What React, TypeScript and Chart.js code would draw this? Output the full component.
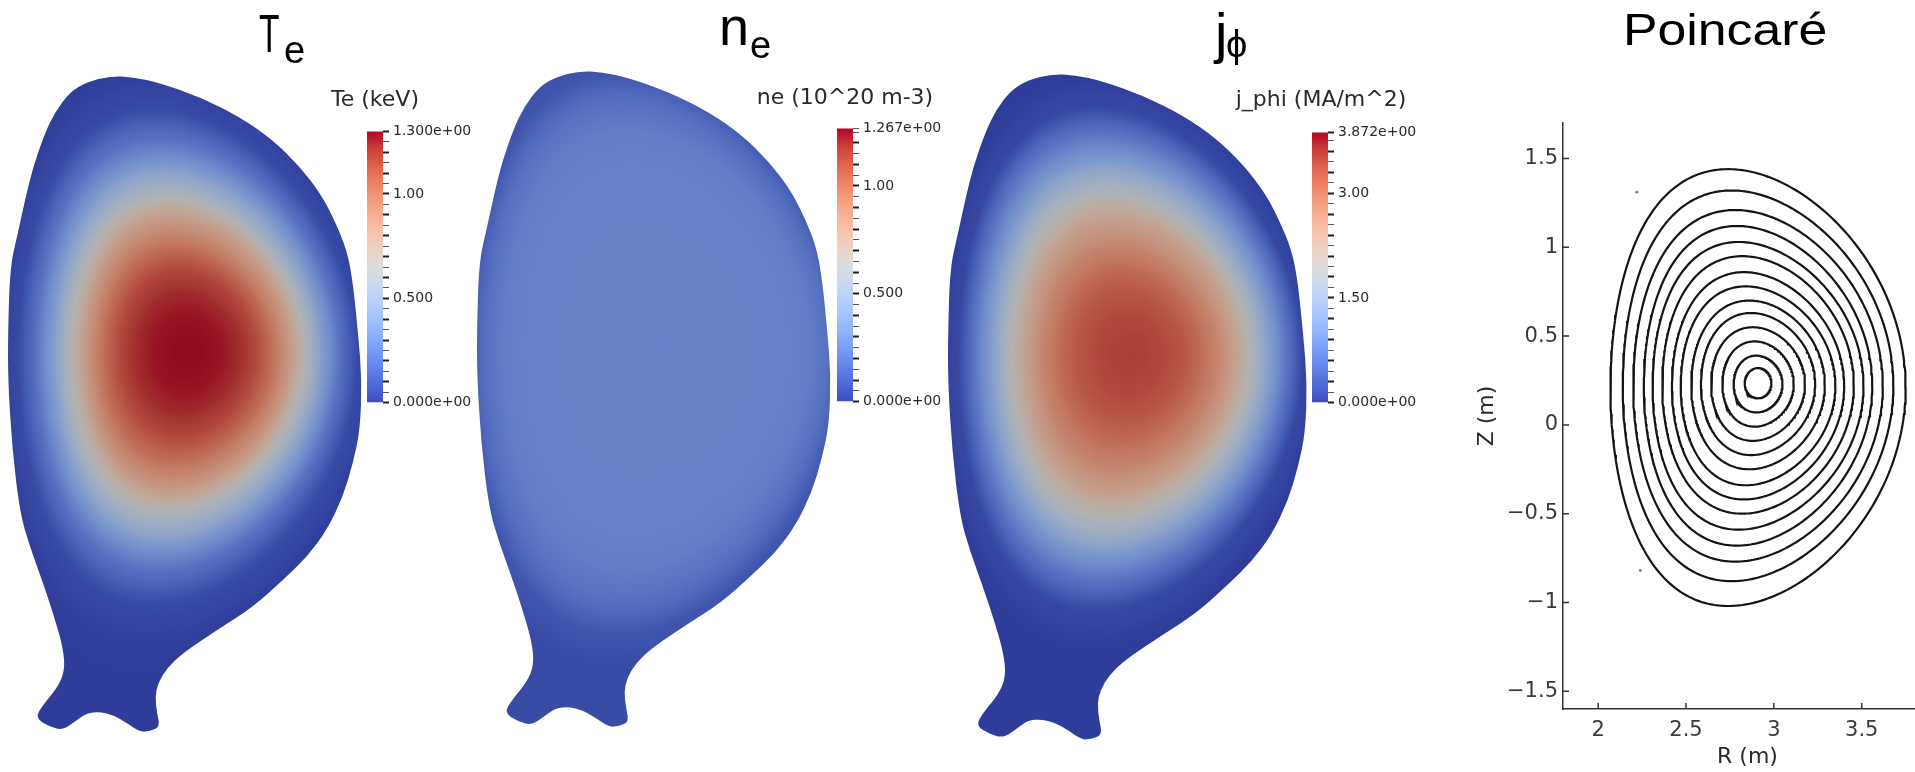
import React, { useEffect, useRef } from 'react';
import { Chart, registerables } from 'chart.js';

Chart.register(...registerables);

// ---------- Computational domain outline (R, Z in metres), clockwise from the top ----------
const domainR = [
  2.525, 2.639, 2.772, 2.970, 3.168, 3.332, 3.466, 3.565, 3.629, 3.698, 3.728, 3.753, 3.772, 3.763,
  3.728, 3.678, 3.599, 3.500, 3.381, 3.233, 3.055, 2.886, 2.807, 2.763, 2.748, 2.758, 2.772, 2.723,
  2.673, 2.609, 2.540, 2.475, 2.411, 2.362, 2.292, 2.228, 2.154, 2.193, 2.267, 2.302, 2.292, 2.243,
  2.188, 2.129, 2.079, 2.040, 2.020, 2.020, 2.030, 2.069, 2.104, 2.144, 2.203, 2.253, 2.327, 2.411,
];
const domainZ = [
  1.600, 1.595, 1.565, 1.496, 1.397, 1.283, 1.150, 1.021, 0.902, 0.739, 0.575, 0.328, 0.095, -0.152,
  -0.316, -0.484, -0.647, -0.781, -0.895, -1.029, -1.143, -1.256, -1.331, -1.405, -1.474, -1.553, -1.623, -1.643,
  -1.648, -1.603, -1.563, -1.548, -1.553, -1.588, -1.638, -1.623, -1.578, -1.514, -1.425, -1.341, -1.227, -1.058,
  -0.895, -0.732, -0.563, -0.237, 0.095, 0.328, 0.654, 0.823, 0.986, 1.150, 1.318, 1.422, 1.521, 1.570,
];

// ---------- Poincaré flux surfaces, outermost first (extremes of each closed surface) ----------
const surfTopZ = [1.44, 1.32, 1.21, 1.12, 1.03, 0.95, 0.86, 0.78, 0.70, 0.63, 0.55, 0.47, 0.39, 0.32];
const surfBottomZ = [-1.02, -0.88, -0.77, -0.68, -0.59, -0.50, -0.42, -0.34, -0.25, -0.17, -0.09, -0.01, 0.07, 0.15];
const surfInnerR = [2.07, 2.14, 2.20, 2.26, 2.31, 2.365, 2.42, 2.47, 2.53, 2.585, 2.643, 2.707, 2.771, 2.834];
const surfOuterR = [3.75, 3.68, 3.62, 3.56, 3.51, 3.455, 3.40, 3.35, 3.29, 3.235, 3.177, 3.113, 3.049, 2.986];
const surfTopR = [2.74, 2.76, 2.78, 2.79, 2.80, 2.82, 2.83, 2.84, 2.86, 2.87, 2.88, 2.89, 2.90, 2.91];

// Magnetic axis
const AXIS_R = 2.91;
const AXIS_Z = 0.235;

// Isolated puncture points
const strayR = [2.22, 2.24];
const strayZ = [1.31, -0.82];

// Axis ticks of the Poincaré plot
const rTicks = [2, 2.5, 3, 3.5];
const zTicks = [-1.5, -1, -0.5, 0, 0.5, 1, 1.5];

// ---------- Radial profiles against normalised radius ----------
const rhoGrid = [0, 0.1, 0.2, 0.3, 0.4, 0.5, 0.6, 0.7, 0.8, 0.9, 1.0, 1.1, 1.2];
const teProfile = [1.29, 1.285, 1.27, 1.23, 1.15, 1.02, 0.84, 0.62, 0.4, 0.2, 0.05, 0.01, 0.0];
const neProfile = [0.27, 0.271, 0.272, 0.273, 0.273, 0.272, 0.27, 0.267, 0.262, 0.25, 0.2, 0.09, 0.05];
const jphiProfile = [3.5, 3.48, 3.42, 3.3, 3.1, 2.8, 2.4, 1.9, 1.3, 0.7, 0.12, 0.0, 0.0];

// ---------- Colour-bar ranges and labelled ticks ----------
const teMax = 1.3;
const teTickValues = [0, 0.5, 1.0, 1.3];
const teTickLabels = ['0.000e+00', '0.500', '1.00', '1.300e+00'];
const neMax = 1.267;
const neTickValues = [0, 0.5, 1.0, 1.267];
const neTickLabels = ['0.000e+00', '0.500', '1.00', '1.267e+00'];
const jphiMax = 3.872;
const jphiTickValues = [0, 1.5, 3.0, 3.872];
const jphiTickLabels = ['0.000e+00', '1.50', '3.00', '3.872e+00'];

// Diverging cool-to-warm colour map
const COOL_WARM = [
  [59, 76, 192], [77, 104, 215], [98, 130, 234], [119, 154, 247], [141, 176, 254],
  [163, 194, 255], [184, 208, 249], [204, 217, 238], [221, 221, 221], [236, 211, 197],
  [245, 196, 172], [247, 177, 148], [244, 154, 123], [236, 127, 99], [222, 96, 77],
  [203, 62, 56], [180, 4, 38],
];
const SURFACE_SHADE = 0.8;

function coolWarm(t: number): number[] {
  const u = Math.min(1, Math.max(0, t)) * (COOL_WARM.length - 1);
  const i = Math.min(COOL_WARM.length - 2, Math.floor(u));
  const f = u - i;
  const a = COOL_WARM[i];
  const b = COOL_WARM[i + 1];
  return [a[0] + (b[0] - a[0]) * f, a[1] + (b[1] - a[1]) * f, a[2] + (b[2] - a[2]) * f];
}

// Closed D-shaped curve through the measured extremes of surface k
function surfaceCurve(k: number, n: number) {
  const r0 = (surfInnerR[k] + surfOuterR[k]) / 2;
  const a = (surfOuterR[k] - surfInnerR[k]) / 2;
  const z0 = (surfTopZ[k] + surfBottomZ[k]) / 2;
  const h = (surfTopZ[k] - surfBottomZ[k]) / 2;
  const delta = Math.asin(Math.max(-0.9, Math.min(0.9, (r0 - surfTopR[k]) / a)));
  const pts: { x: number; y: number }[] = [];
  for (let i = 0; i <= n; i++) {
    const th = (2 * Math.PI * i) / n;
    pts.push({ x: r0 + a * Math.cos(th + delta * Math.sin(th)), y: z0 + h * Math.sin(th) });
  }
  return pts;
}

// Radius of every surface seen from the magnetic axis, sampled in poloidal angle
const NB = 720;
const DPHI = (2 * Math.PI) / NB;
const surfaceRadii: Float64Array[] = surfTopZ.map((_, k) => {
  const pts = surfaceCurve(k, 1440);
  const radii = new Float64Array(NB);
  for (let i = 0; i < pts.length - 1; i++) {
    const ax = pts[i].x - AXIS_R;
    const ay = pts[i].y - AXIS_Z;
    const bx = pts[i + 1].x - AXIS_R;
    const by = pts[i + 1].y - AXIS_Z;
    const pa = Math.atan2(ay, ax);
    const ra = Math.hypot(ax, ay);
    const rb = Math.hypot(bx, by);
    let d = Math.atan2(by, bx) - pa;
    if (d > Math.PI) d -= 2 * Math.PI;
    if (d < -Math.PI) d += 2 * Math.PI;
    const lo = Math.min(pa, pa + d);
    const hi = Math.max(pa, pa + d);
    for (let j = Math.ceil((lo + Math.PI) / DPHI); j <= Math.floor((hi + Math.PI) / DPHI); j++) {
      const phi = -Math.PI + j * DPHI;
      const t = d === 0 ? 0 : (phi - pa) / d;
      radii[((j % NB) + NB) % NB] = ra + t * (rb - ra);
    }
  }
  return radii;
});
const surfRho = surfOuterR.map((o, k) => (o - surfInnerR[k]) / (surfOuterR[0] - surfInnerR[0]));

function rhoAt(R: number, Z: number): number {
  const dx = R - AXIS_R;
  const dz = Z - AXIS_Z;
  const r = Math.hypot(dx, dz);
  const u = ((Math.atan2(dz, dx) + Math.PI) / (2 * Math.PI)) * NB;
  const fl = Math.floor(u);
  const j0 = ((fl % NB) + NB) % NB;
  const j1 = (j0 + 1) % NB;
  const f = u - fl;
  const rk = (k: number) => surfaceRadii[k][j0] * (1 - f) + surfaceRadii[k][j1] * f;
  const n = surfRho.length;
  const outer = rk(0);
  if (r >= outer) {
    const next = rk(1);
    return surfRho[0] + ((r - outer) / (outer - next)) * (surfRho[0] - surfRho[1]);
  }
  let ro = outer;
  for (let k = 0; k < n - 1; k++) {
    const ri = rk(k + 1);
    if (r >= ri) return surfRho[k + 1] + ((r - ri) / (ro - ri)) * (surfRho[k] - surfRho[k + 1]);
    ro = ri;
  }
  return (surfRho[n - 1] * r) / rk(n - 1);
}

function profileAt(p: number[], rho: number): number {
  const step = rhoGrid[1] - rhoGrid[0];
  const u = rho / step;
  if (u >= p.length - 1) return p[p.length - 1];
  if (u <= 0) return p[0];
  const i = Math.floor(u);
  return p[i] + (p[i + 1] - p[i]) * (u - i);
}

// Paints the field inside the domain outline, using the chart's own scales
function makeFieldPlugin(profile: number[], vmax: number) {
  let image: HTMLCanvasElement | null = null;
  return {
    id: 'fieldPainter',
    beforeDatasetsDraw(chart: any) {
      const { ctx, chartArea: a } = chart;
      const xs = chart.scales.x;
      const ys = chart.scales.y;
      const w = Math.ceil(a.right - a.left);
      const h = Math.ceil(a.bottom - a.top);
      if (!image || image.width !== w || image.height !== h) {
        image = document.createElement('canvas');
        image.width = w;
        image.height = h;
        const octx = image.getContext('2d')!;
        const img = octx.createImageData(w, h);
        const Rs = new Float64Array(w);
        const Zs = new Float64Array(h);
        for (let i = 0; i < w; i++) Rs[i] = xs.getValueForPixel(a.left + i + 0.5);
        for (let j = 0; j < h; j++) Zs[j] = ys.getValueForPixel(a.top + j + 0.5);
        for (let j = 0; j < h; j++) {
          for (let i = 0; i < w; i++) {
            const v = profileAt(profile, rhoAt(Rs[i], Zs[j]));
            const c = coolWarm(v / vmax);
            const o = (j * w + i) * 4;
            img.data[o] = c[0] * SURFACE_SHADE;
            img.data[o + 1] = c[1] * SURFACE_SHADE;
            img.data[o + 2] = c[2] * SURFACE_SHADE;
            img.data[o + 3] = 255;
          }
        }
        octx.putImageData(img, 0, 0);
      }
      const pts = chart.getDatasetMeta(0).data.map((p: any) => ({ x: p.x, y: p.y }));
      const n = pts.length;
      const mid = (p: any, q: any) => ({ x: (p.x + q.x) / 2, y: (p.y + q.y) / 2 });
      ctx.save();
      ctx.beginPath();
      const m0 = mid(pts[n - 1], pts[0]);
      ctx.moveTo(m0.x, m0.y);
      for (let i = 0; i < n; i++) {
        const p = pts[i];
        const mm = mid(p, pts[(i + 1) % n]);
        ctx.quadraticCurveTo(p.x, p.y, mm.x, mm.y);
      }
      ctx.closePath();
      ctx.clip();
      ctx.drawImage(image, a.left, a.top, w, h);
      ctx.restore();
    },
  };
}

type View = { width: number; height: number; ox: number; oy: number; left: number; top: number; scale: number };

function fieldConfig(profile: number[], vmax: number, v: View) {
  const rMin = 2.02 - (v.ox - v.left) / v.scale;
  const zMax = 1.6 + (v.oy - v.top) / v.scale;
  return {
    type: 'scatter',
    data: {
      datasets: [
        {
          label: 'domain',
          data: domainR.map((r, i) => ({ x: r, y: domainZ[i] })),
          showLine: false,
          pointRadius: 0,
        },
      ],
    },
    options: {
      animation: false,
      responsive: true,
      maintainAspectRatio: false,
      events: [],
      layout: { padding: 0 },
      plugins: { legend: { display: false }, tooltip: { enabled: false } },
      scales: {
        x: { type: 'linear', display: false, min: rMin, max: rMin + v.width / v.scale },
        y: { type: 'linear', display: false, min: zMax - v.height / v.scale, max: zMax },
      },
    },
    plugins: [makeFieldPlugin(profile, vmax)],
  };
}

function colorbarConfig(max: number, step: number, tickValues: number[], tickLabels: string[]) {
  const minor: number[] = [];
  for (let k = 0; k * step < max - 1e-6; k++) minor.push(+(k * step).toFixed(4));
  minor.push(max);
  const labelFor = (val: number) => {
    const i = tickValues.findIndex((t) => Math.abs(t - val) < 1e-6);
    return i >= 0 ? tickLabels[i] : '';
  };
  return {
    type: 'bar',
    data: {
      labels: [''],
      datasets: [
        {
          data: [[0, max]],
          borderWidth: 0,
          barPercentage: 1,
          categoryPercentage: 1,
          backgroundColor: (c: any) => {
            const area = c.chart.chartArea;
            if (!area) return 'rgb(221,221,221)';
            const g = c.chart.ctx.createLinearGradient(0, area.bottom, 0, area.top);
            COOL_WARM.forEach((col, i) => g.addColorStop(i / (COOL_WARM.length - 1), `rgb(${col[0]},${col[1]},${col[2]})`));
            return g;
          },
        },
      ],
    },
    options: {
      animation: false,
      responsive: true,
      maintainAspectRatio: false,
      events: [],
      layout: { padding: { top: 12, bottom: 12, left: 0, right: 0 } },
      plugins: { legend: { display: false }, tooltip: { enabled: false } },
      scales: {
        x: { display: false },
        y: {
          position: 'right',
          min: 0,
          max,
          afterBuildTicks: (s: any) => {
            s.ticks = minor.map((value) => ({ value }));
          },
          afterFit: (s: any) => {
            s.width = 90;
          },
          grid: {
            display: true,
            drawOnChartArea: false,
            drawTicks: true,
            tickLength: 6,
            tickWidth: (c: any) => (Math.round((c.tick?.value ?? 0) / step) % 2 === 0 ? 2 : 1),
            tickColor: (c: any) => (Math.round((c.tick?.value ?? 0) / step) % 2 === 0 ? '#1e1e1e' : '#555'),
          },
          border: { display: false },
          ticks: {
            autoSkip: false,
            padding: 4,
            color: '#2a2a2a',
            font: { family: 'DejaVu Sans', size: 14 },
            callback: (val: number) => labelFor(val),
          },
        },
      },
    },
  };
}

const fmtTick = (v: number) => String(v).replace('-', '\u2212');

const inwardTicks = {
  id: 'inwardTicks',
  afterDraw(chart: any) {
    const { ctx, chartArea: a, scales } = chart;
    ctx.save();
    ctx.strokeStyle = '#333';
    ctx.lineWidth = 1.5;
    ctx.beginPath();
    rTicks.forEach((v) => {
      const px = scales.x.getPixelForValue(v);
      ctx.moveTo(px, a.bottom);
      ctx.lineTo(px, a.bottom - 6);
    });
    zTicks.forEach((v) => {
      const py = scales.y.getPixelForValue(v);
      ctx.moveTo(a.left, py);
      ctx.lineTo(a.left + 6, py);
    });
    ctx.stroke();
    ctx.restore();
  },
};

function poincareConfig() {
  const surfaces = surfTopZ.map((_, k) => ({
    label: `surface ${k + 1}`,
    data: surfaceCurve(k, 260),
    showLine: true,
    pointRadius: 0,
    borderColor: '#141414',
    borderWidth: 2.2,
    tension: 0,
    fill: false,
  }));
  const stray = {
    label: 'stray points',
    data: strayR.map((r, i) => ({ x: r, y: strayZ[i] })),
    showLine: false,
    pointRadius: 1.4,
    borderWidth: 0,
    backgroundColor: '#808080',
  };
  const axisFont = { family: 'DejaVu Sans', size: 21 };
  const titleFont = { family: 'DejaVu Sans', size: 22 };
  return {
    type: 'scatter',
    data: { datasets: [...surfaces, stray] },
    options: {
      animation: false,
      responsive: true,
      maintainAspectRatio: false,
      events: [],
      layout: { padding: { top: 23, left: 0, right: 0, bottom: 0 } },
      plugins: { legend: { display: false }, tooltip: { enabled: false } },
      scales: {
        x: {
          type: 'linear',
          min: 1.8,
          max: 3.9,
          afterBuildTicks: (s: any) => {
            s.ticks = rTicks.map((value) => ({ value }));
          },
          afterFit: (s: any) => {
            s.height = 63;
          },
          grid: { display: false, drawTicks: false },
          border: { display: true, color: '#333', width: 1.5 },
          ticks: { padding: 9, color: '#3a3a3a', font: axisFont, callback: fmtTick },
          title: { display: true, text: 'R (m)', color: '#2a2a2a', font: titleFont, padding: { top: 0, bottom: 2 } },
        },
        y: {
          type: 'linear',
          min: -1.6,
          max: 1.7,
          afterBuildTicks: (s: any) => {
            s.ticks = zTicks.map((value) => ({ value }));
          },
          afterFit: (s: any) => {
            s.width = 123;
          },
          grid: { display: false, drawTicks: false },
          border: { display: true, color: '#333', width: 1.5 },
          ticks: { padding: 5, color: '#3a3a3a', font: axisFont, callback: fmtTick },
          title: { display: true, text: 'Z (m)', color: '#2a2a2a', font: titleFont, padding: { top: 34, bottom: 0 } },
        },
      },
    },
    plugins: [inwardTicks],
  };
}

function ChartBox({ left, top, width, height, make }: { left: number; top: number; width: number; height: number; make: () => any }) {
  const ref = useRef<HTMLCanvasElement>(null);
  useEffect(() => {
    const chart = new Chart(ref.current as HTMLCanvasElement, make());
    return () => chart.destroy();
  }, []);
  return (
    <div style={{ position: 'absolute', left, top, width, height }}>
      <canvas ref={ref} />
    </div>
  );
}

const SANS = '"Liberation Sans", Arial, sans-serif';
const DEJAVU = '"DejaVu Sans", sans-serif';

function Txt({
  x, baseline, size, children, family = SANS, color = '#000', scaleX = 1, center = false,
}: {
  x: number; baseline: number; size: number; children: React.ReactNode; family?: string; color?: string; scaleX?: number; center?: boolean;
}) {
  const top = baseline - 0.8465 * size;
  const style: React.CSSProperties = {
    position: 'absolute',
    top,
    fontFamily: family,
    fontSize: size,
    lineHeight: 1,
    color,
    whiteSpace: 'nowrap',
  };
  if (center) {
    style.left = x - 200;
    style.width = 400;
    style.textAlign = 'center';
  } else {
    style.left = x;
    style.transform = `scaleX(${scaleX})`;
    style.transformOrigin = 'left top';
  }
  return <div style={style}>{children}</div>;
}

const panelTe: View = { left: 0, top: 40, width: 375, height: 725, ox: 8, oy: 76, scale: 202 };
const panelNe: View = { left: 465, top: 40, width: 375, height: 725, ox: 477, oy: 71, scale: 202 };
const panelJ: View = { left: 935, top: 40, width: 380, height: 730, ox: 948, oy: 74, scale: 205 };

export default function App() {
  return (
    <div style={{ position: 'fixed', left: 0, top: 0, width: 1915, height: 772, overflow: 'hidden', background: '#fff' }}>
      <ChartBox {...panelTe} make={() => fieldConfig(teProfile, teMax, panelTe)} />
      <ChartBox {...panelNe} make={() => fieldConfig(neProfile, neMax, panelNe)} />
      <ChartBox {...panelJ} make={() => fieldConfig(jphiProfile, jphiMax, panelJ)} />

      <ChartBox left={367} top={119} width={106} height={296} make={() => colorbarConfig(teMax, 0.05, teTickValues, teTickLabels)} />
      <ChartBox left={837} top={116} width={106} height={298} make={() => colorbarConfig(neMax, 0.05, neTickValues, neTickLabels)} />
      <ChartBox left={1312} top={120} width={106} height={295} make={() => colorbarConfig(jphiMax, 0.15, jphiTickValues, jphiTickLabels)} />

      <ChartBox left={1440} top={100} width={496} height={672} make={poincareConfig} />

      <Txt x={375} baseline={107} size={22} family={DEJAVU} color="#2a2a2a" center>Te (keV)</Txt>
      <Txt x={845} baseline={105} size={22} family={DEJAVU} color="#2a2a2a" center>ne (10^20 m-3)</Txt>
      <Txt x={1321} baseline={107} size={22} family={DEJAVU} color="#2a2a2a" center>j_phi (MA/m^2)</Txt>

      <Txt x={259} baseline={52} size={54} scaleX={0.62}>T</Txt>
      <Txt x={284} baseline={63} size={38}>e</Txt>
      <Txt x={719} baseline={45} size={54}>n</Txt>
      <Txt x={750} baseline={58} size={38}>e</Txt>
      <Txt x={1215} baseline={52} size={56}>j</Txt>
      <Txt x={1226} baseline={57} size={38}>ϕ</Txt>
      <Txt x={1623} baseline={45} size={45} scaleX={1.15}>Poincaré</Txt>
    </div>
  );
}
